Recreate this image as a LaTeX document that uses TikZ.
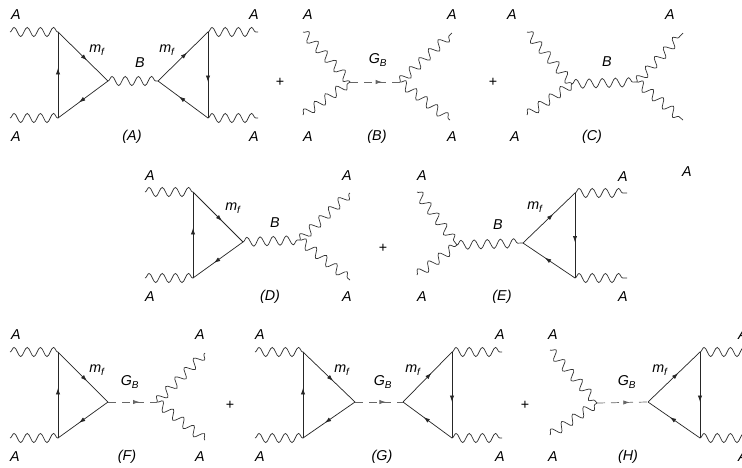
\documentclass[tikz,border=0pt]{standalone}
\usepackage{fontspec}
\setmainfont{Liberation Sans}
\usetikzlibrary{decorations.pathmorphing,decorations.markings,arrows.meta}
\newcommand{\mf}[0]{m\textsubscript{f}}
\newcommand{\gb}[0]{G\textsubscript{B}}
\newcommand{\pxScale}[0]{0.7pt}

\begin{document}
\begin{tikzpicture}[x=\pxScale, y=-\pxScale]
  \tikzset{every node/.style={font=\itshape, inner sep=0pt},
    midarrow/.style={postaction={decorate}, decoration={markings,
        mark=at position #1 with {\arrow{Latex[length=4.4pt,width=3pt]}}}},
    photon/.style={draw=black!80, line width=0.5pt, decorate,
      decoration={snake, amplitude=3.2pt, segment length=9.2pt}},
    fermion/.style={draw=black!85, line width=0.5pt, midarrow=0.58},
    scalar/.style={draw=black!60, line width=0.5pt,
      dash pattern=on 5.6pt off 4.2pt, midarrow=0.64},
    plus/.style={font=\upshape}}
  \useasboundingbox (0,0) rectangle (742,467);
  \clip (0,0) rectangle (742,467);
  % (A)
  \coordinate (a1) at (10,32);   \coordinate (a2) at (58,32);
  \coordinate (a3) at (10,118);  \coordinate (a4) at (58,118);
  \coordinate (a5) at (108,81);  \coordinate (a6) at (158,81);
  \coordinate (a7) at (208,32);  \coordinate (a8) at (208,118);
  \coordinate (a9) at (258,32);  \coordinate (a10) at (258,118);
  \draw[photon] (a1) -- (a2);
  \draw[photon] (a3) -- (a4);
  \draw[photon] (a5) -- (a6);
  \draw[photon] (a7) -- (a9);
  \draw[photon] (a8) -- (a10);
  \draw[fermion] (a4) -- (a2);
  \draw[fermion] (a2) -- (a5);
  \draw[fermion] (a5) -- (a4);
  \draw[fermion] (a6) -- (a7);
  \draw[fermion] (a7) -- (a8);
  \draw[fermion] (a8) -- (a6);
  \node (aA1) at (16,15) {A};
  \node (aA2) at (16,137) {A};
  \node (aA3) at (254,15) {A};
  \node (aA4) at (254,137) {A};
  \node (amf1) at (97,50) {\mf};
  \node (amf2) at (167,50) {\mf};
  \node (aB) at (140,63) {B};
  \node (aname) at (132,137) {(A)};
  \node[plus] (plus1) at (280,82) {+};
  % (B)
  \coordinate (b1) at (303,32);  \coordinate (b2) at (303,115);
  \coordinate (b3) at (350,82);  \coordinate (b4) at (400,82);
  \coordinate (b5) at (452,33);  \coordinate (b6) at (450,120);
  \draw[photon] (b1) -- (b3);
  \draw[photon] (b2) -- (b3);
  \draw[photon] (b4) -- (b5);
  \draw[photon] (b4) -- (b6);
  \draw[scalar] (b3) -- (b4);
  \node (bA1) at (308,15) {A};
  \node (bA2) at (308,137) {A};
  \node (bA3) at (452,15) {A};
  \node (bA4) at (452,137) {A};
  \node (bgb) at (378,60) {\gb};
  \node (bname) at (377,137) {(B)};
  \node[plus] (plus2) at (493,82) {+};
  % (C)
  \coordinate (c1) at (527,32);  \coordinate (c2) at (527,115);
  \coordinate (c3) at (572,84);  \coordinate (c4) at (637,82);
  \coordinate (c5) at (683,33);  \coordinate (c6) at (683,120);
  \draw[photon] (c1) -- (c3);
  \draw[photon] (c2) -- (c3);
  \draw[photon] (c3) -- (c4);
  \draw[photon] (c4) -- (c5);
  \draw[photon] (c4) -- (c6);
  \node (cA1) at (512,15) {A};
  \node (cA2) at (670,15) {A};
  \node (cA3) at (515,137) {A};
  \node (cA4) at (687,172) {A};
  \node (cB) at (607,62) {B};
  \node (cname) at (592,137) {(C)};
  % (D)
  \coordinate (d1) at (145,192); \coordinate (d2) at (193,192);
  \coordinate (d3) at (145,278); \coordinate (d4) at (193,278);
  \coordinate (d5) at (243,242); \coordinate (d6) at (300,240);
  \coordinate (d7) at (350,193); \coordinate (d8) at (350,280);
  \draw[photon] (d1) -- (d2);
  \draw[photon] (d3) -- (d4);
  \draw[photon] (d5) -- (d6);
  \draw[photon] (d6) -- (d7);
  \draw[photon] (d6) -- (d8);
  \draw[fermion] (d4) -- (d2);
  \draw[fermion] (d2) -- (d5);
  \draw[fermion] (d5) -- (d4);
  \node (dA1) at (150,176) {A};
  \node (dA2) at (150,297) {A};
  \node (dA3) at (347,176) {A};
  \node (dA4) at (347,297) {A};
  \node (dmf) at (233,208) {\mf};
  \node (dB) at (275,223) {B};
  \node (dname) at (270,297) {(D)};
  \node[plus] (plus3) at (383,248) {+};
  % (E)
  \coordinate (e1) at (417,192); \coordinate (e2) at (417,275);
  \coordinate (e3) at (457,245); \coordinate (e4) at (523,243);
  \coordinate (e5) at (575,193); \coordinate (e6) at (575,278);
  \coordinate (e7) at (627,193); \coordinate (e8) at (627,278);
  \draw[photon] (e1) -- (e3);
  \draw[photon] (e2) -- (e3);
  \draw[photon] (e3) -- (e4);
  \draw[photon] (e5) -- (e7);
  \draw[photon] (e6) -- (e8);
  \draw[fermion] (e4) -- (e5);
  \draw[fermion] (e5) -- (e6);
  \draw[fermion] (e6) -- (e4);
  \node (eA1) at (422,176) {A};
  \node (eA2) at (422,297) {A};
  \node (eA3) at (623,177) {A};
  \node (eA4) at (623,297) {A};
  \node (emf) at (535,207) {\mf};
  \node (eB) at (498,225) {B};
  \node (ename) at (502,297) {(E)};
  % (F)
  \coordinate (f1) at (10,352);  \coordinate (f2) at (58,352);
  \coordinate (f3) at (10,438);  \coordinate (f4) at (58,438);
  \coordinate (f5) at (108,402); \coordinate (f6) at (157,402);
  \coordinate (f7) at (205,353); \coordinate (f8) at (205,440);
  \draw[photon] (f1) -- (f2);
  \draw[photon] (f3) -- (f4);
  \draw[photon] (f6) -- (f7);
  \draw[photon] (f6) -- (f8);
  \draw[fermion] (f4) -- (f2);
  \draw[fermion] (f2) -- (f5);
  \draw[fermion] (f5) -- (f4);
  \draw[scalar] (f5) -- (f6);
  \node (fA1) at (16,335) {A};
  \node (fA2) at (15,457) {A};
  \node (fA3) at (200,335) {A};
  \node (fA4) at (200,457) {A};
  \node (fmf) at (97,370) {\mf};
  \node (fgb) at (130,382) {\gb};
  \node (fname) at (127,457) {(F)};
  \node[plus] (plus4) at (230,405) {+};
  % (G)
  \coordinate (g1) at (255,352); \coordinate (g2) at (303,352);
  \coordinate (g3) at (255,438); \coordinate (g4) at (303,438);
  \coordinate (g5) at (355,402); \coordinate (g6) at (403,402);
  \coordinate (g7) at (452,352); \coordinate (g8) at (452,438);
  \coordinate (g9) at (502,352); \coordinate (g10) at (502,438);
  \draw[photon] (g1) -- (g2);
  \draw[photon] (g3) -- (g4);
  \draw[photon] (g7) -- (g9);
  \draw[photon] (g8) -- (g10);
  \draw[fermion] (g4) -- (g2);
  \draw[fermion] (g2) -- (g5);
  \draw[fermion] (g5) -- (g4);
  \draw[fermion] (g6) -- (g7);
  \draw[fermion] (g7) -- (g8);
  \draw[fermion] (g8) -- (g6);
  \draw[scalar] (g5) -- (g6);
  \node (gA1) at (260,335) {A};
  \node (gA2) at (260,457) {A};
  \node (gA3) at (500,335) {A};
  \node (gA4) at (500,457) {A};
  \node (gmf1) at (342,370) {\mf};
  \node (gmf2) at (413,370) {\mf};
  \node (ggb) at (383,382) {\gb};
  \node (gname) at (382,457) {(G)};
  \node[plus] (plus5) at (525,405) {+};
  % (H)
  \coordinate (h1) at (550,350); \coordinate (h2) at (550,435);
  \coordinate (h3) at (597,403); \coordinate (h4) at (648,402);
  \coordinate (h5) at (700,352); \coordinate (h6) at (700,438);
  \coordinate (h7) at (750,352); \coordinate (h8) at (750,438);
  \draw[photon] (h1) -- (h3);
  \draw[photon] (h2) -- (h3);
  \draw[photon] (h5) -- (h7);
  \draw[photon] (h6) -- (h8);
  \draw[fermion] (h4) -- (h5);
  \draw[fermion] (h5) -- (h6);
  \draw[fermion] (h6) -- (h4);
  \draw[scalar] (h3) -- (h4);
  \node (hA1) at (553,335) {A};
  \node (hA2) at (553,457) {A};
  \node (hA3) at (743,335) {A};
  \node (hA4) at (743,457) {A};
  \node (hmf) at (660,370) {\mf};
  \node (hgb) at (627,382) {\gb};
  \node (hname) at (628,457) {(H)};
\end{tikzpicture}
\end{document}
